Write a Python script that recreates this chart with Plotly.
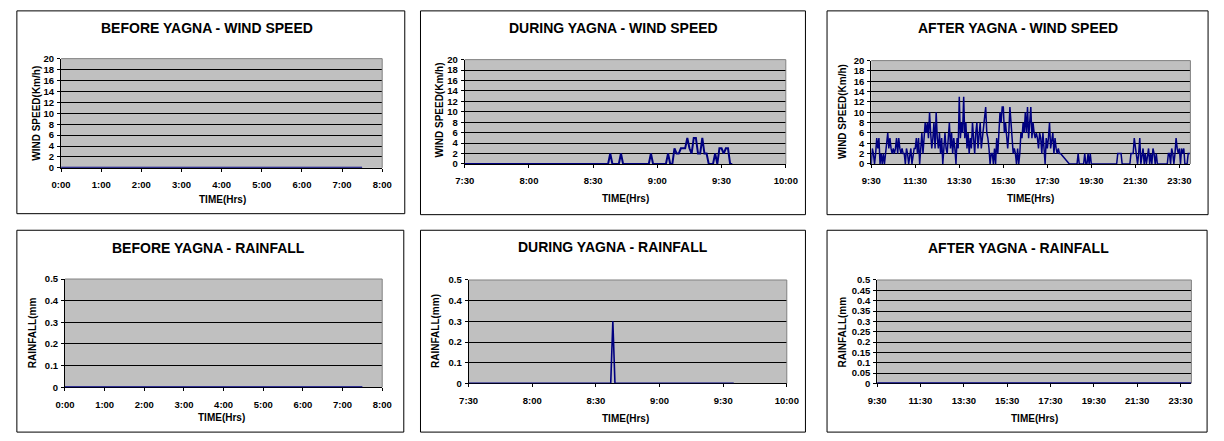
import plotly.graph_objects as go

W, H = 1224, 441
NAVY = "#000080"
FONT = "Liberation Sans, Arial, sans-serif"

# ------------------------------------------------------------------ data
before_times = ["0:00", "0:30", "1:00", "1:30", "2:00", "2:30", "3:00", "3:30",
                "4:00", "4:30", "5:00", "5:30", "6:00", "6:30", "7:00", "7:30"]
before_wind = [0, 0, 0, 0, 0, 0, 0, 0, 0, 0, 0, 0, 0, 0, 0, 0]
before_rain = [0, 0, 0, 0, 0, 0, 0, 0, 0, 0, 0, 0, 0, 0, 0, 0]

# one reading per minute starting 7:30
during_start = "7:30"
during_step_min = 1
during_wind = [
    0, 0, 0, 0, 0, 0, 0, 0, 0, 0,   # 7:30
    0, 0, 0, 0, 0, 0, 0, 0, 0, 0,   # 7:40
    0, 0, 0, 0, 0, 0, 0, 0, 0, 0,   # 7:50
    0, 0, 0, 0, 0, 0, 0, 0, 0, 0,   # 8:00
    0, 0, 0, 0, 0, 0, 0, 0, 0, 0,   # 8:10
    0, 0, 0, 0, 0, 0, 0, 0, 0, 0,   # 8:20
    0, 0, 0, 0, 0, 0, 0, 0, 2, 0,   # 8:30
    0, 0, 0, 2, 0, 0, 0, 0, 0, 0,   # 8:40
    0, 0, 0, 0, 0, 0, 0, 2, 0, 0,   # 8:50
    0, 0, 0, 0, 0, 2, 0, 0, 3, 2,   # 9:00
    2, 3, 3, 3, 5, 3, 2, 5, 5, 2,   # 9:10
    2, 5, 2, 2, 0, 0, 0, 2, 0, 3,   # 9:20
    3, 2, 3, 3, 0, 0,               # 9:30
]
during_rain = [
    0, 0, 0, 0, 0, 0, 0, 0, 0, 0,
    0, 0, 0, 0, 0, 0, 0, 0, 0, 0,
    0, 0, 0, 0, 0, 0, 0, 0, 0, 0,
    0, 0, 0, 0, 0, 0, 0, 0, 0, 0,
    0, 0, 0, 0, 0, 0, 0, 0, 0, 0,
    0, 0, 0, 0, 0, 0, 0, 0, 0, 0,
    0, 0, 0, 0, 0, 0, 0, 0, 0.3, 0,
    0, 0, 0, 0, 0, 0, 0, 0, 0, 0,
    0, 0, 0, 0, 0, 0, 0, 0, 0, 0,
    0, 0, 0, 0, 0, 0, 0, 0, 0, 0,
    0, 0, 0, 0, 0, 0, 0, 0, 0, 0,
    0, 0, 0, 0, 0, 0, 0, 0, 0, 0,
    0, 0, 0, 0, 0, 0,
]

# readings every 3 minutes, two blocks (gap between 18:06 and 18:30)
after_step_min = 3
after_wind_a_start = "9:30"
after_wind_a = [
    0, 3, 2, 0, 2, 5, 3, 5, 0, 2,        # 9:30
    0, 2, 0, 2, 5, 6, 3, 5, 3, 2,        # 10:00
    3, 2, 3, 5, 2, 5, 3, 2, 3, 2,        # 10:30
    2, 0, 3, 2, 0, 2, 3, 0, 2, 3,        # 11:00
    3, 5, 2, 5, 0, 3, 6, 2, 6, 8,        # 11:30
    6, 8, 5, 10, 6, 3, 5, 8, 3, 10,      # 12:00
    5, 3, 6, 2, 5, 0, 3, 6, 3, 2,        # 12:30
    5, 8, 3, 6, 2, 5, 3, 0, 5, 3,        # 13:00
    13, 5, 8, 6, 13, 5, 8, 3, 6, 2,      # 13:30
    5, 3, 8, 5, 2, 6, 8, 3, 5, 8,        # 14:00
    3, 5, 8, 10, 11, 6, 5, 3, 0, 2,      # 14:30
    2, 0, 3, 0, 5, 2, 6, 10, 8, 11,      # 15:00
    11, 6, 8, 5, 3, 6, 11, 8, 5, 2,      # 15:30
    3, 2, 0, 3, 0, 2, 6, 5, 8, 6,        # 16:00
    10, 6, 11, 5, 8, 11, 5, 8, 6, 5,     # 16:30
    6, 5, 3, 6, 5, 2, 6, 3, 0, 5,        # 17:00
    3, 5, 8, 3, 5, 6, 2, 5, 3, 2,        # 17:30
    3, 2, 2,                             # 18:00
]
after_wind_b_start = "18:30"
after_wind_b = [
    0, 0, 0, 0, 0, 0, 0, 0, 2, 0,        # 18:30
    0, 0, 0, 0, 2, 0, 0, 2, 0, 2,        # 19:00
    0, 0, 0, 0, 0, 0, 0, 0, 0, 0,        # 19:30
    0, 0, 0, 0, 0, 0, 0, 0, 0, 0,        # 20:00
    0, 0, 0, 0, 2, 2, 2, 2, 0, 0,        # 20:30
    0, 0, 0, 0, 0, 0, 2, 2, 2, 5,        # 21:00
    3, 2, 0, 2, 5, 0, 2, 3, 0, 2,        # 21:30
    0, 2, 3, 0, 2, 0, 3, 2, 0, 2,        # 22:00
    0, 0, 0, 0, 0, 0, 0, 0, 0, 0,        # 22:30
    2, 2, 0, 3, 2, 0, 2, 5, 3, 2,        # 23:00
    3, 0, 3, 2, 3, 0, 0, 0, 2, 2,        # 23:30
    2,                                   # 24:00
]
after_rain_times = ["9:30", "10:00", "10:30", "11:00", "11:30", "12:00", "12:30",
                    "13:00", "13:30", "14:00", "14:30", "15:00", "15:30", "16:00",
                    "16:30", "17:00", "17:30", "18:00", "18:30", "19:00", "19:30",
                    "20:00", "20:30", "21:00", "21:30", "22:00", "22:30", "23:00",
                    "23:30", "24:00"]
after_rain = [0, 0, 0, 0, 0, 0, 0, 0, 0, 0, 0, 0, 0, 0, 0,
              0, 0, 0, 0, 0, 0, 0, 0, 0, 0, 0, 0, 0, 0, 0]

# tick labels
before_ticks = ["0:00", "1:00", "2:00", "3:00", "4:00", "5:00", "6:00", "7:00", "8:00"]
during_ticks = ["7:30", "8:00", "8:30", "9:00", "9:30", "10:00"]
after_ticks = ["9:30", "11:30", "13:30", "15:30", "17:30", "19:30", "21:30", "23:30"]
wind_ticks = [0, 2, 4, 6, 8, 10, 12, 14, 16, 18, 20]
rain_ticks = [0, 0.1, 0.2, 0.3, 0.4, 0.5]
rain_tick_labels = ["0", "0.1", "0.2", "0.3", "0.4", "0.5"]
rain_fine_ticks = [0, 0.05, 0.1, 0.15, 0.2, 0.25, 0.3, 0.35, 0.4, 0.45, 0.5]
rain_fine_labels = ["0", "0.05", "0.1", "0.15", "0.2", "0.25", "0.3", "0.35",
                    "0.4", "0.45", "0.5"]

titles = ["BEFORE YAGNA - WIND SPEED", "DURING YAGNA - WIND SPEED", "AFTER YAGNA - WIND SPEED",
          "BEFORE YAGNA - RAINFALL", "DURING YAGNA - RAINFALL", "AFTER YAGNA - RAINFALL"]
ytitles = ["WIND SPEED(Km/h)", "WIND SPEED(Km/h)", "WIND SPEED(Km/h)",
           "RAINFALL(mm", "RAINFALL(mm)", "RAINFALL(mm"]
xtitle = "TIME(Hrs)"


# ------------------------------------------------------------------ helpers
def hrs(t):
    h, m = t.split(":")
    return int(h) + int(m) / 60.0


def times_from(start, step_min, n):
    s = hrs(start)
    return [s + i * step_min / 60.0 for i in range(n)]


# ------------------------------------------------------------------ layout boxes (pixels)
panels = [
    dict(border=(7, 5, 402, 213), plot=(52, 54, 379, 166), title=(201, 23), xt=(216, 198), yt=(27, 110)),
    dict(border=(418, 5, 810, 214), plot=(463, 55, 790, 162), title=(615, 23), xt=(627, 197), yt=(437, 107)),
    dict(border=(832, 5, 1220, 214), plot=(877, 56, 1202, 162), title=(1026, 23), xt=(1039, 197), yt=(848, 108)),
    dict(border=(7, 230, 401, 437), plot=(56, 280, 379, 391), title=(202, 248), xt=(215, 422), yt=(23, 335)),
    dict(border=(418, 230, 810, 437), plot=(467, 281, 791, 387), title=(614, 247), xt=(627, 423), yt=(433, 333)),
    dict(border=(832, 230, 1219, 437), plot=(883, 281, 1203, 387), title=(1027, 248), xt=(1043, 423), yt=(848, 334)),
]

xcfg = [
    (before_ticks, [0, 8]),
    (during_ticks, [7.5, 10]),
    (after_ticks, [9.5, 24.0]),
    (before_ticks, [0, 8]),
    (during_ticks, [7.5, 10]),
    (after_ticks, [9.5, 24.0]),
]
ycfg = [
    (wind_ticks, [str(v) for v in wind_ticks], [0, 20]),
    (wind_ticks, [str(v) for v in wind_ticks], [0, 20]),
    (wind_ticks, [str(v) for v in wind_ticks], [0, 20]),
    (rain_ticks, rain_tick_labels, [0, 0.5]),
    (rain_ticks, rain_tick_labels, [0, 0.5]),
    (rain_fine_ticks, rain_fine_labels, [0, 0.5]),
]

# ------------------------------------------------------------------ traces
after_x = times_from(after_wind_a_start, after_step_min, len(after_wind_a)) + \
    times_from(after_wind_b_start, after_step_min, len(after_wind_b))
after_y = after_wind_a + after_wind_b
series = [
    ([hrs(t) for t in before_times], before_wind, 2),
    (times_from(during_start, during_step_min, len(during_wind)), during_wind, 2),
    (after_x, after_y, 1.5),
    ([hrs(t) for t in before_times], before_rain, 2),
    (times_from(during_start, during_step_min, len(during_rain)), during_rain, 1.6),
    ([hrs(t) for t in after_rain_times], after_rain, 2),
]

fig = go.Figure()
layout = dict(
    width=W, height=H, margin=dict(l=0, r=0, t=0, b=0),
    paper_bgcolor="white", plot_bgcolor="#C0C0C0", showlegend=False,
    font=dict(family=FONT, color="black"),
)
shapes = []
annotations = []
tickfont = dict(family=FONT, size=9.5, color="black", weight="bold")

for i, p in enumerate(panels):
    n = i + 1
    sfx = "" if n == 1 else str(n)
    xs, ys, lw = series[i]
    fig.add_trace(go.Scatter(x=xs, y=ys, mode="lines", line=dict(color=NAVY, width=lw),
                             xaxis="x" + sfx, yaxis="y" + sfx, hoverinfo="skip"))
    px0, py0, px1, py1 = p["plot"]
    xt, xr = xcfg[i]
    yv, yl, yr = ycfg[i]
    layout["xaxis" + sfx] = dict(
        domain=[px0 / W, px1 / W], range=xr, anchor="y" + sfx,
        tickvals=[hrs(t) for t in xt], ticktext=xt, tickfont=tickfont,
        showgrid=False, zeroline=False, showline=True, linecolor="black", linewidth=1,
        ticks="outside", ticklen=3, tickcolor="black", ticklabelstandoff=5,
        layer="below traces", fixedrange=True,
    )
    layout["yaxis" + sfx] = dict(
        domain=[1 - py1 / H, 1 - py0 / H], range=yr, anchor="x" + sfx,
        tickvals=yv, ticktext=yl, tickfont=tickfont,
        showgrid=True, gridcolor="black", gridwidth=1, zeroline=False,
        showline=True, linecolor="black", linewidth=1,
        ticks="outside", ticklen=3, tickcolor="black", ticklabelstandoff=1,
        layer="below traces", fixedrange=True,
    )
    bx0, by0, bx1, by1 = p["border"]
    shapes.append(dict(type="rect", xref="paper", yref="paper",
                       x0=bx0 / W, x1=bx1 / W, y0=1 - by1 / H, y1=1 - by0 / H,
                       line=dict(color="black", width=1), fillcolor="rgba(0,0,0,0)"))
    shapes.append(dict(type="line", xref="x" + sfx + " domain", yref="y" + sfx + " domain",
                       x0=0, x1=1, y0=1, y1=1, line=dict(color="#808080", width=1), layer="above"))
    shapes.append(dict(type="line", xref="x" + sfx + " domain", yref="y" + sfx + " domain",
                       x0=1, x1=1, y0=0, y1=1, line=dict(color="#808080", width=1), layer="above"))
    tx, ty = p["title"]
    annotations.append(dict(text=titles[i], x=tx / W, y=1 - ty / H, xref="paper", yref="paper",
                            showarrow=False, xanchor="center", yanchor="middle",
                            font=dict(family=FONT, size=14, color="black", weight="bold")))
    ax, ay = p["xt"]
    annotations.append(dict(text=xtitle, x=ax / W, y=1 - ay / H, xref="paper", yref="paper",
                            showarrow=False, xanchor="center", yanchor="middle",
                            font=dict(family=FONT, size=10, color="black", weight="bold")))
    yx, yy = p["yt"]
    annotations.append(dict(text=ytitles[i], x=yx / W, y=1 - yy / H, xref="paper", yref="paper",
                            showarrow=False, xanchor="center", yanchor="middle", textangle=-90,
                            font=dict(family=FONT, size=10, color="black", weight="bold")))

layout["shapes"] = shapes
layout["annotations"] = annotations
fig.update_layout(**layout)
fig.write_html(
    "out.html",
    config={"displayModeBar": False},
    post_script="document.body.style.margin='0';document.body.style.padding='0';"
                "document.body.style.overflow='hidden';",
)
